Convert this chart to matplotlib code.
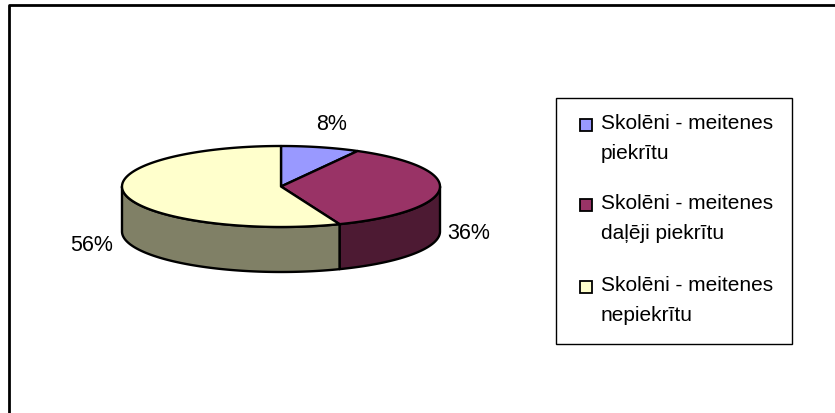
import matplotlib
matplotlib.use('Agg')
import matplotlib.pyplot as plt
from matplotlib.patches import Rectangle
import numpy as np

plt.rcParams['font.family'] = ['Liberation Sans', 'DejaVu Sans']

W, H = 835, 414

# data
categories = ['Skolēni - meitenes\npiekrītu',
              'Skolēni - meitenes\ndaļēji piekrītu',
              'Skolēni - meitenes\nnepiekrītu']
values = [8, 36, 56]
colors = ['#9999FF', '#993366', '#FFFFCC']
side_colors = ['#4D4D80', '#4D1A33', '#808066']

# pie geometry in pixels
cx, cy = 281, 187.5
rx, ry = 159, 40.5
depth = 45
lw = 1.7

fig = plt.figure(figsize=(W / 100, H / 100), dpi=100)
ax = fig.add_axes([0, 0, 1, 1])
ax.set_xlim(0, W)
ax.set_ylim(H, 0)
ax.axis('off')

# outer frame, only top and left are visible in the picture
ax.plot([835, 9, 9], [5.5, 5.5, 414], color='black', lw=2, solid_capstyle='butt')

# clockwise from 12 o'clock
edges = np.cumsum([0] + values) / sum(values) * 2 * np.pi


def ell(t):
    return cx + rx * np.sin(t), cy - ry * np.cos(t)


# side walls (only the part facing us)
for i in range(len(values)):
    t0 = max(edges[i], np.pi / 2)
    t1 = min(edges[i + 1], 3 * np.pi / 2)
    if t1 <= t0:
        continue
    t = np.linspace(t0, t1, 120)
    x, y = ell(t)
    xs = np.r_[x, x[::-1]]
    ys = np.r_[y, (y + depth)[::-1]]
    ax.fill(xs, ys, facecolor=side_colors[i], edgecolor='black', lw=lw, joinstyle='round')

# top slices
for i in range(len(values)):
    t = np.linspace(edges[i], edges[i + 1], 200)
    x, y = ell(t)
    ax.fill(np.r_[cx, x], np.r_[cy, y], facecolor=colors[i], edgecolor='black', lw=lw, joinstyle='round')

# percent labels
label_pos = [(332, 125), (469, 234), (92, 246)]
for v, (lx, ly) in zip(values, label_pos):
    ax.text(lx, ly, f'{v}%', ha='center', va='center', fontsize=15.5, color='black')

# legend box
ax.add_patch(Rectangle((556, 99), 236, 246, facecolor='white', edgecolor='black', lw=1))
row_y = [124, 204, 286]
for lab, c, ry0 in zip(categories, colors, row_y):
    ax.add_patch(Rectangle((580, ry0 - 4.5), 12, 12, facecolor=c, edgecolor='black', lw=1.3))
    for j, line in enumerate(lab.split('\n')):
        ax.text(601, ry0 + j * 30, line, ha='left', va='center', fontsize=15, color='black')

fig.savefig('out.png', dpi=100)
